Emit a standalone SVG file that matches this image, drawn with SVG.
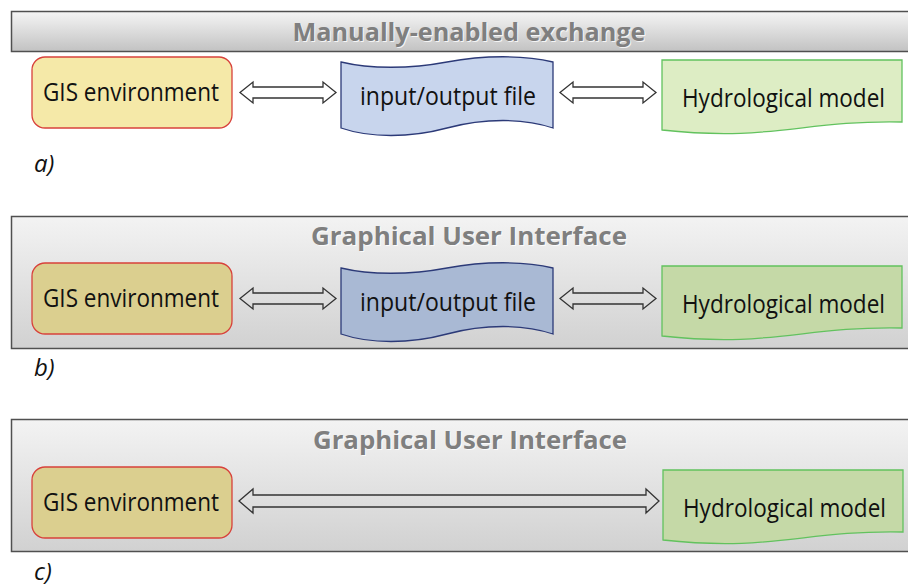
<svg xmlns="http://www.w3.org/2000/svg" width="908" height="586" viewBox="0 0 908 586">
<defs>
<linearGradient id="hdr" x1="0" y1="0" x2="0" y2="1">
<stop offset="0" stop-color="#f5f5f5"/><stop offset="1" stop-color="#c2c2c2"/>
</linearGradient>
<linearGradient id="gui" x1="0" y1="0" x2="0" y2="1">
<stop offset="0" stop-color="#f3f3f3"/><stop offset="1" stop-color="#d1d1d1"/>
</linearGradient>
<path id="tape" d="M0,7 C29,14 69,14 106,7 C143,0 183,0 212,7 L212,73 C183,63 143,63 106,73 C69,83 29,83 0,73 Z"/>
<path id="doc" d="M0,0 H240 V62 C140,60 110,82 0,70 Z"/>
<path id="arr" d="M0,0 L13,-10.5 L13,-5.5 L83,-5.5 L83,-10.5 L96,0 L83,10.5 L83,5.5 L13,5.5 L13,10.5 Z"/>
</defs>
<style>
.panel{stroke:#505050;stroke-width:1.5}
.title{font-family:"Open Sans","Liberation Sans",sans-serif;font-weight:bold;font-size:25px;fill:#7f7f7f;text-anchor:middle}
.shadow{fill:#ffffff;opacity:0.8}
.lbl{font-family:"Open Sans","Liberation Sans",sans-serif;font-size:25px;fill:#111;text-anchor:middle}
.tag{font-family:"Open Sans","Liberation Sans",sans-serif;font-style:italic;font-size:24px;fill:#111}
.gis-a{fill:#f5e9a8;stroke:#d8413b;stroke-width:1.3}
.gis-b{fill:#dbcf8f;stroke:#d8413b;stroke-width:1.3}
.io-a{fill:#c8d5ed;stroke:#2c3a78;stroke-width:1.3}
.io-b{fill:#a9b9d4;stroke:#2c3a78;stroke-width:1.3}
.hy-a{fill:#ddedc4;stroke:#62c25e;stroke-width:1.3}
.hy-b{fill:#c5d9a7;stroke:#62c25e;stroke-width:1.3}
.conn{fill:none;stroke:#333;stroke-width:1.3;stroke-linejoin:miter}
</style>

<!-- Panel a -->
<g id="panel-a">
<rect class="panel" x="11.5" y="11.5" width="910" height="40" fill="url(#hdr)"/>
<text class="title shadow" x="470" y="42" textLength="353" lengthAdjust="spacingAndGlyphs">Manually-enabled exchange</text>
<text class="title" x="469" y="41" textLength="353" lengthAdjust="spacingAndGlyphs">Manually-enabled exchange</text>
<text class="tag" x="34" y="172">a)</text>
</g>
<g id="gis-a">
<rect class="gis-a" x="32" y="57" width="200" height="71" rx="13"/>
<text class="lbl" x="131" y="101" textLength="176" lengthAdjust="spacingAndGlyphs">GIS environment</text>
</g>
<g id="io-a">
<use href="#tape" class="io-a" x="341" y="55"/>
<text class="lbl" x="448" y="105" textLength="176" lengthAdjust="spacingAndGlyphs">input/output file</text>
</g>
<g id="hydro-a">
<use href="#doc" class="hy-a" x="662" y="60"/>
<text class="lbl" x="783.5" y="107" textLength="203" lengthAdjust="spacingAndGlyphs">Hydrological model</text>
</g>

<!-- Panel b -->
<g id="panel-b">
<rect class="panel" x="11.5" y="216.5" width="910" height="132" fill="url(#gui)"/>
<text class="title shadow" x="470" y="246" textLength="316" lengthAdjust="spacingAndGlyphs">Graphical User Interface</text>
<text class="title" x="469" y="245" textLength="316" lengthAdjust="spacingAndGlyphs">Graphical User Interface</text>
<text class="tag" x="34" y="376">b)</text>
</g>
<g id="gis-b">
<rect class="gis-b" x="32" y="263" width="200" height="71" rx="13"/>
<text class="lbl" x="131" y="307" textLength="176" lengthAdjust="spacingAndGlyphs">GIS environment</text>
</g>
<g id="io-b">
<use href="#tape" class="io-b" x="341" y="261"/>
<text class="lbl" x="448" y="311" textLength="176" lengthAdjust="spacingAndGlyphs">input/output file</text>
</g>
<g id="hydro-b">
<use href="#doc" class="hy-b" x="662" y="266"/>
<text class="lbl" x="783.5" y="313" textLength="203" lengthAdjust="spacingAndGlyphs">Hydrological model</text>
</g>

<!-- Panel c -->
<g id="panel-c">
<rect class="panel" x="11.5" y="419.5" width="910" height="132" fill="url(#gui)"/>
<text class="title shadow" x="471" y="450" textLength="314" lengthAdjust="spacingAndGlyphs">Graphical User Interface</text>
<text class="title" x="470" y="449" textLength="314" lengthAdjust="spacingAndGlyphs">Graphical User Interface</text>
<text class="tag" x="34" y="580">c)</text>
</g>
<g id="gis-c">
<rect class="gis-b" x="32" y="467" width="200" height="71" rx="13"/>
<text class="lbl" x="131" y="511" textLength="176" lengthAdjust="spacingAndGlyphs">GIS environment</text>
</g>
<g id="hydro-c">
<use href="#doc" class="hy-b" x="663" y="470"/>
<text class="lbl" x="784.5" y="517" textLength="203" lengthAdjust="spacingAndGlyphs">Hydrological model</text>
</g>

<g id="connectors">
<use href="#arr" class="conn" x="240" y="92.5"/>
<use href="#arr" class="conn" x="560" y="92.5"/>
<use href="#arr" class="conn" x="240" y="298.5"/>
<use href="#arr" class="conn" x="560" y="298.5"/>
<path class="conn" d="M239,501 L253,489 L253,495 L646,495 L646,489 L659,501 L646,513 L646,507 L253,507 L253,513 Z"/>
</g>
</svg>
